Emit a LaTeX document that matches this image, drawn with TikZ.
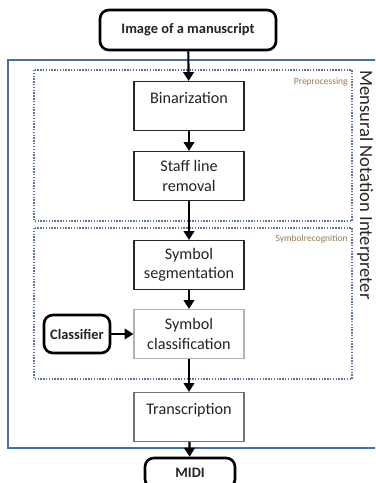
\documentclass[tikz,border=0pt]{standalone}
\usepackage{fontspec}
\setmainfont{Carlito}
\usetikzlibrary{arrows.meta}

\definecolor{frameblue}{RGB}{72,112,160}
\definecolor{dotblue}{RGB}{95,115,150}
\definecolor{boxtext}{RGB}{35,35,35}
\definecolor{tagtext}{RGB}{150,120,90}

\begin{document}
\begin{tikzpicture}[x=0.02cm,y=-0.02cm,
    stage/.style={draw=black!85,line width=0.7pt,minimum width=2.2cm,minimum height=0.98cm,
      align=center,text=boxtext,font=\fontsize{9.2}{11}\selectfont,inner sep=0pt},
    lightstage/.style={stage,draw=black!30},
    term/.style={draw=black,line width=1.5pt,rounded corners=5pt,align=center,
      font=\bfseries\fontsize{8.2}{10}\selectfont,text=boxtext,inner sep=0pt},
    group/.style={draw=dotblue,dash pattern=on 0.8pt off 0.8pt,line width=0.8pt},
    tag/.style={text=tagtext,font=\fontsize{5.4}{6}\selectfont,anchor=north east,inner sep=0pt},
    flow/.style={-{Triangle[length=5pt,width=6pt]},line width=1.2pt,black}]
  \path[use as bounding box] (0,0) rectangle (375,483);
  \clip (0,0) rectangle (375,483);

  % frame of the interpreter
  \draw[frameblue,line width=1.2pt] (8,60) rectangle (385,448);
  \node[rotate=-90,text=black!85,font=\fontsize{10.6}{12}\selectfont] (mni) at (365,185) {Mensural Notation Interpreter};

  % groups
  \draw[group] (34,70) rectangle (352,221);
  \node[tag] (pre) at (348,78) {Preprocessing};
  \draw[group] (34,228) rectangle (352,379);
  \node[tag] (rec) at (348,235) {Symbolrecognition};

  % stages
  \node[term,minimum width=3.52cm,minimum height=0.8cm] (img) at (188,30) {Image of a manuscript};
  \node[stage] (bin) at (189,106) {Binarization\\[-5.4pt]\strut};
  \node[stage] (staff) at (189,176) {Staff line\\removal};
  \node[stage] (seg) at (189,265) {Symbol\\segmentation};
  \node[lightstage] (cls) at (189,334) {Symbol\\classification};
  \node[term,minimum width=1.32cm,minimum height=0.76cm] (clf) at (77,334) {Classifier};
  \node[stage,draw=black!55] (trans) at (189,417) {Transcription\\[-5.4pt]\strut};
  \node[term,minimum width=1.8cm,minimum height=0.6cm] (midi) at (190,473) {MIDI};

  \draw[flow] (img) -- (bin);
  \draw[flow] (bin) -- (staff);
  \draw[flow] (staff) -- (seg);
  \draw[flow] (seg) -- (cls);
  \draw[flow] (clf) -- (cls);
  \draw[flow] (cls) -- (trans);
  \draw[flow] (trans) -- (midi);
\end{tikzpicture}
\end{document}
